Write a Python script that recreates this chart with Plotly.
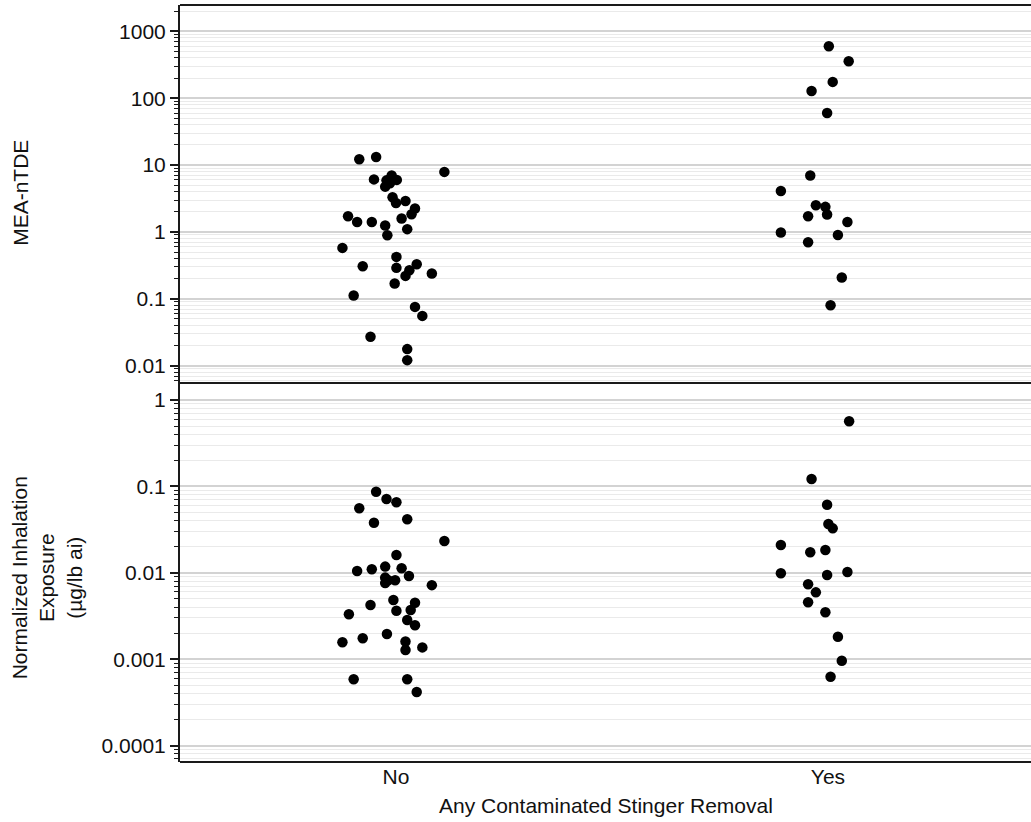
import plotly.graph_objects as go
from plotly.subplots import make_subplots

# ---------------- data ----------------
categories = ["No", "Yes"]

# MEA-nTDE, group "No"
mea_no_vals = [12.2, 13.2, 7.9, 6.1, 7.0, 6.0, 5.9, 5.35, 4.75, 3.3, 2.7, 2.9, 2.24, 1.84,
               1.59, 1.72, 1.41, 1.41, 1.25, 1.10, 0.89, 0.577, 0.423, 0.307, 0.290,
               0.329, 0.268, 0.220, 0.239, 0.169, 0.112, 0.0757, 0.0555, 0.027, 0.0177, 0.0121]
mea_no_jit = [-0.085, -0.046, 0.112, -0.051, -0.010, 0.002, -0.022, -0.014, -0.025, -0.008,
              0.000, 0.022, 0.044, 0.036, 0.013, -0.111, -0.090, -0.056, -0.025, 0.026,
              -0.020, -0.124, 0.001, -0.077, 0.001, 0.048, 0.031, 0.022, 0.083, -0.003,
              -0.098, 0.044, 0.061, -0.059, 0.026, 0.026]

# MEA-nTDE, group "Yes"
mea_yes_vals = [597, 356, 175, 128, 60, 6.97, 4.10, 2.51, 2.37, 1.72, 1.82, 1.41, 0.98,
                0.90, 0.70, 0.208, 0.080]
mea_yes_jit = [0.002, 0.048, 0.011, -0.038, -0.002, -0.041, -0.109, -0.028, -0.006, -0.046,
               -0.002, 0.045, -0.109, 0.023, -0.046, 0.032, 0.006]

# Normalized inhalation exposure, group "No"
inh_no_vals = [0.0869, 0.0715, 0.0655, 0.0558, 0.038, 0.0416, 0.0233, 0.0161, 0.0105, 0.011,
               0.0118, 0.0113, 0.0092, 0.0088, 0.0082, 0.0082, 0.0076, 0.0072, 0.00484,
               0.00451, 0.00424, 0.00364, 0.00371, 0.00331, 0.00284, 0.00247, 0.00196,
               0.00175, 0.00157, 0.00160, 0.00128, 0.00137, 0.000585, 0.000585, 0.000417]
inh_no_jit = [-0.046, -0.022, 0.001, -0.085, -0.051, 0.026, 0.112, 0.001, -0.090, -0.056,
              -0.025, 0.013, 0.030, -0.025, -0.018, -0.002, -0.025, 0.083, -0.006, 0.044,
              -0.059, 0.001, 0.034, -0.109, 0.026, 0.044, -0.021, -0.077, -0.124, 0.022,
              0.022, 0.061, -0.098, 0.026, 0.048]

# Normalized inhalation exposure, group "Yes"
inh_yes_vals = [0.567, 0.122, 0.0614, 0.0367, 0.0327, 0.021, 0.0173, 0.0184, 0.00986,
                0.00944, 0.0102, 0.00736, 0.00594, 0.00456, 0.00349, 0.00182, 0.00096, 0.000627]
inh_yes_jit = [0.049, -0.038, -0.002, 0.001, 0.011, -0.109, -0.041, -0.006, -0.109, -0.002,
               0.045, -0.046, -0.028, -0.046, -0.006, 0.023, 0.032, 0.006]

top_tickvals = [0.01, 0.1, 1, 10, 100, 1000]
top_ticktext = ["0.01", "0.1", "1", "10", "100", "1000"]
bot_tickvals = [0.0001, 0.001, 0.01, 0.1, 1]
bot_ticktext = ["0.0001", "0.001", "0.01", "0.1", "1"]

top_title = "MEA-nTDE"
bot_title = "Normalized Inhalation<br>Exposure<br>(µg/lb ai)"
x_title = "Any Contaminated Stinger Removal"

# ---------------- figure ----------------
FONT = "Liberation Sans, Arial, sans-serif"
FS = 21
fig = make_subplots(rows=2, cols=1, shared_xaxes=False, vertical_spacing=0)

def pos(cat_index, jit):
    return [cat_index + 1 + j for j in jit]

mk = dict(color="black", size=10.5, line=dict(width=0))
fig.add_trace(go.Scatter(x=pos(0, mea_no_jit), y=mea_no_vals, mode="markers", marker=mk,
                         showlegend=False), row=1, col=1)
fig.add_trace(go.Scatter(x=pos(1, mea_yes_jit), y=mea_yes_vals, mode="markers", marker=mk,
                         showlegend=False), row=1, col=1)
fig.add_trace(go.Scatter(x=pos(0, inh_no_jit), y=inh_no_vals, mode="markers", marker=mk,
                         showlegend=False), row=2, col=1)
fig.add_trace(go.Scatter(x=pos(1, inh_yes_jit), y=inh_yes_vals, mode="markers", marker=mk,
                         showlegend=False), row=2, col=1)

split = (762 - 383) / 757.0

yax_common = dict(
    type="log", showline=True, linecolor="#1a1a1a", linewidth=2,
    ticks="outside", ticklen=8, tickwidth=1.5, tickcolor="#1a1a1a",
    showgrid=True, gridcolor="#d3d3d3", gridwidth=1.5, zeroline=False,
    tickfont=dict(family=FONT, size=FS, color="#111"),
    minor=dict(dtick="D1", ticks="outside", ticklen=4, tickwidth=1, tickcolor="#1a1a1a",
               showgrid=True, gridcolor="#eaeaea", gridwidth=1),
)
fig.update_layout(
    yaxis=dict(domain=[split, 1.0], range=[-2.259, 3.393], tickmode="array",
               tickvals=top_tickvals, ticktext=top_ticktext, **yax_common),
    yaxis2=dict(domain=[0.0, split], range=[-4.19, 0.197], tickmode="array",
                tickvals=bot_tickvals, ticktext=bot_ticktext, **yax_common),
    xaxis=dict(range=[0.5, 2.47], showticklabels=False, showgrid=False, zeroline=False,
               showline=False, ticks=""),
    xaxis2=dict(range=[0.5, 2.47], tickmode="array", tickvals=[1, 2], ticktext=categories,
                showgrid=False, zeroline=False, showline=False, ticks="",
                tickfont=dict(family=FONT, size=FS, color="#111")),
)

# frame lines (top, between panels, bottom)
for yy in [1.0, split, 0.0]:
    fig.add_shape(type="line", xref="paper", yref="paper", x0=0, x1=1.05, y0=yy, y1=yy,
                  line=dict(color="#1a1a1a", width=2))

fig.add_annotation(text=top_title, xref="paper", yref="paper", x=-0.187, y=0.7517,
                   textangle=-90, showarrow=False, xanchor="center", yanchor="middle",
                   font=dict(family=FONT, size=FS, color="#111"))
fig.add_annotation(text=bot_title, xref="paper", yref="paper", x=-0.156, y=0.243,
                   textangle=-90, showarrow=False, xanchor="center", yanchor="middle",
                   font=dict(family=FONT, size=FS, color="#111"))
fig.add_annotation(text=x_title, xref="paper", yref="paper", x=0.5, y=(762 - 805) / 757.0,
                   showarrow=False, xanchor="center", yanchor="middle",
                   font=dict(family=FONT, size=FS, color="#111"))

fig.update_layout(
    width=1031, height=822,
    margin=dict(l=180, r=0, t=5, b=60),
    paper_bgcolor="white", plot_bgcolor="white",
    font=dict(family=FONT, size=FS, color="#111"),
)

fig.write_html("out.html",
               config={"displayModeBar": False},
               post_script="document.body.style.margin='0';document.body.style.overflow='hidden';")
